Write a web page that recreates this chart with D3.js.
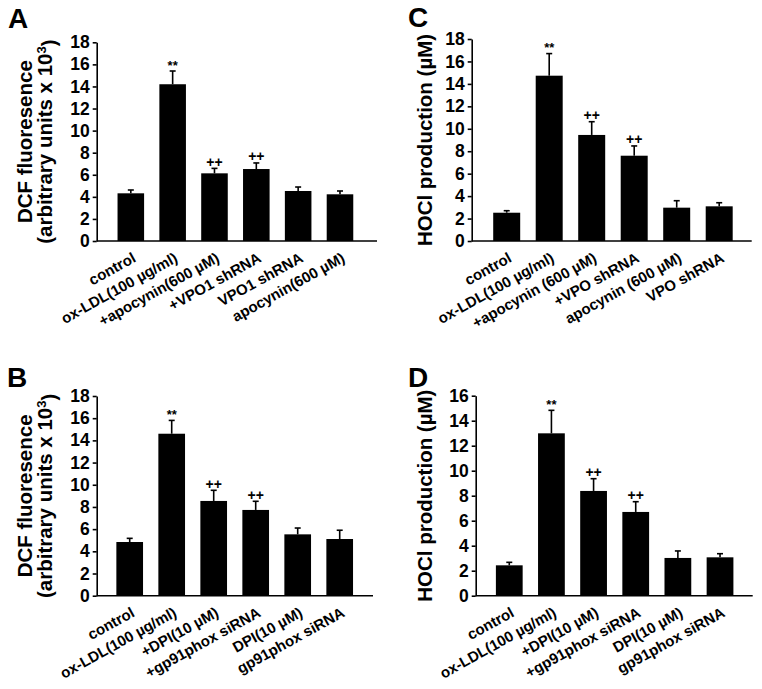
<!DOCTYPE html>
<html><head><meta charset="utf-8">
<script src="https://cdn.jsdelivr.net/npm/d3@7"></script>
<style>
body{margin:0;background:#fff}
svg{display:block}
text{font-family:"Liberation Sans",Arial,Helvetica,sans-serif;font-weight:bold;fill:#000}
</style>
</head><body><svg id="chart" width="762" height="689"></svg>
<script>
// ---------- data ----------
const categoriesA = ["control", "ox-LDL(100 µg/ml)", "+apocynin(600 µM)", "+VPO1 shRNA", "VPO1 shRNA", "apocynin(600 µM)"];
const categoriesC = ["control", "ox-LDL(100 µg/ml)", "+apocynin (600 µM)", "+VPO shRNA", "apocynin (600 µM)", "VPO shRNA"];
const categoriesBD = ["control", "ox-LDL(100 µg/ml)", "+DPI(10 µM)", "+gp91phox siRNA", "DPI(10 µM)", "gp91phox siRNA"];

const valuesA = [4.32, 14.2, 6.13, 6.52, 4.53, 4.23];
const errorsA = [0.30, 1.20, 0.45, 0.55, 0.36, 0.30];
const valuesB = [4.84, 14.6, 8.54, 7.73, 5.53, 5.11];
const errorsB = [0.33, 1.20, 0.96, 0.78, 0.57, 0.79];
const valuesC = [2.52, 14.73, 9.45, 7.60, 2.97, 3.09];
const errorsC = [0.18, 1.97, 1.18, 0.87, 0.62, 0.32];
const valuesD = [2.43, 12.99, 8.38, 6.70, 3.02, 3.07];
const errorsD = [0.24, 1.84, 0.98, 0.82, 0.56, 0.29];

const marks = ["", "**", "++", "++", "", ""];

const ticksABC = [0, 2, 4, 6, 8, 10, 12, 14, 16, 18];
const ticksD = [0, 2, 4, 6, 8, 10, 12, 14, 16];

const titleDCF = ["DCF fluoresence", "(arbitrary units x 10", "3", ")"];
const titleHOCl = ["HOCl production (µM)"];

// ---------- layout ----------
const panels = [
  {letter: "A", cats: categoriesA, values: valuesA, errors: errorsA, ticks: ticksABC, title: titleDCF,
   letterX: 8, letterY: 28, left: 96.7, right: 377, top: 42.3, bottom: 241, band: [109.9, 360.9], titleX: [32, 52]},
  {letter: "B", cats: categoriesBD, values: valuesB, errors: errorsB, ticks: ticksABC, title: titleDCF,
   letterX: 7, letterY: 387, left: 96.7, right: 373, top: 396, bottom: 595.7, band: [108.7, 360.7], titleX: [32, 52]},
  {letter: "C", cats: categoriesC, values: valuesC, errors: errorsC, ticks: ticksABC, title: titleHOCl,
   letterX: 408, letterY: 27, left: 471.7, right: 751.7, top: 39, bottom: 241, band: [485.45, 740.45], titleX: [432]},
  {letter: "D", cats: categoriesBD, values: valuesD, errors: errorsD, ticks: ticksD, title: titleHOCl,
   letterX: 408, letterY: 387, left: 475.7, right: 752.7, top: 395.7, bottom: 595.7, band: [488.2, 741.1], titleX: [432]}
];

const svg = d3.select("#chart");
const FONT = '"Liberation Sans",Arial,sans-serif';

panels.forEach(p => {
  const g = svg.append("g");
  const y = d3.scaleLinear().domain([0, d3.max(p.ticks)]).range([p.bottom, p.top]);
  const x = d3.scaleBand().domain(p.cats).range(p.band).paddingInner(0.365).paddingOuter(0.1825);

  // panel letter
  g.append("text").attr("x", p.letterX).attr("y", p.letterY)
    .style("font-size", "28px").text(p.letter);

  // bars
  const data = p.cats.map((c, i) => ({c, v: p.values[i], e: p.errors[i], m: marks[i]}));
  g.selectAll("rect.bar").data(data).join("rect").attr("class", "bar")
    .attr("x", d => x(d.c)).attr("width", x.bandwidth())
    .attr("y", d => y(d.v)).attr("height", d => y(0) - y(d.v))
    .attr("fill", "#000");

  // error bars
  const eb = g.selectAll("g.err").data(data).join("g").attr("class", "err")
    .attr("transform", d => `translate(${x(d.c) + x.bandwidth() / 2},0)`);
  eb.append("line").attr("x1", 0).attr("x2", 0)
    .attr("y1", d => y(d.v)).attr("y2", d => y(d.v + d.e))
    .attr("stroke", "#000").attr("stroke-width", 1.6);
  eb.append("line").attr("x1", -3).attr("x2", 3)
    .attr("y1", d => y(d.v + d.e)).attr("y2", d => y(d.v + d.e))
    .attr("stroke", "#000").attr("stroke-width", 1.6);
  eb.append("text").attr("text-anchor", "middle")
    .attr("y", d => y(d.v + d.e) - 1.5)
    .style("font-size", d => d.m === "++" ? "14px" : "13px").text(d => d.m);

  // y axis
  const ya = g.append("g").attr("transform", `translate(${p.left},0)`)
    .call(d3.axisLeft(y).tickValues(p.ticks).tickSize(4).tickSizeOuter(0).tickPadding(3));
  ya.select(".domain").attr("stroke-width", 1.6);
  ya.selectAll(".tick line").attr("stroke-width", 1.6);
  ya.selectAll(".tick text").style("font-size", "17.5px")
    .style("font-family", FONT).style("font-weight", "bold");

  // x axis
  const xa = g.append("g").attr("transform", `translate(0,${p.bottom})`)
    .call(d3.axisBottom(x).tickSize(0).tickSizeOuter(0));
  xa.select(".domain").remove();
  xa.selectAll(".tick text")
    .attr("x", 0).attr("y", 0).attr("dy", 0)
    .attr("text-anchor", "end")
    .attr("transform", "translate(6,20) rotate(-29)")
    .style("font-size", "15px")
    .style("font-family", FONT).style("font-weight", "bold");
  g.append("line").attr("x1", p.left).attr("x2", p.right)
    .attr("y1", y(0)).attr("y2", y(0))
    .attr("stroke", "#000").attr("stroke-width", 1.6);

  // y title
  const cy = (p.top + p.bottom) / 2;
  g.append("text").attr("text-anchor", "middle")
    .attr("transform", `translate(${p.titleX[0]},${cy}) rotate(-90)`)
    .style("font-size", "20.5px").text(p.title[0]);
  if (p.title.length > 1) {
    const t2 = g.append("text").attr("text-anchor", "middle")
      .attr("transform", `translate(${p.titleX[1]},${cy}) rotate(-90)`)
      .style("font-size", "20.5px");
    t2.append("tspan").text(p.title[1]);
    t2.append("tspan").attr("dy", "-0.5em").style("font-size", "13px").text(p.title[2]);
    t2.append("tspan").attr("dy", "0.5em").text(p.title[3]);
  }
});
</script>
</body></html>
